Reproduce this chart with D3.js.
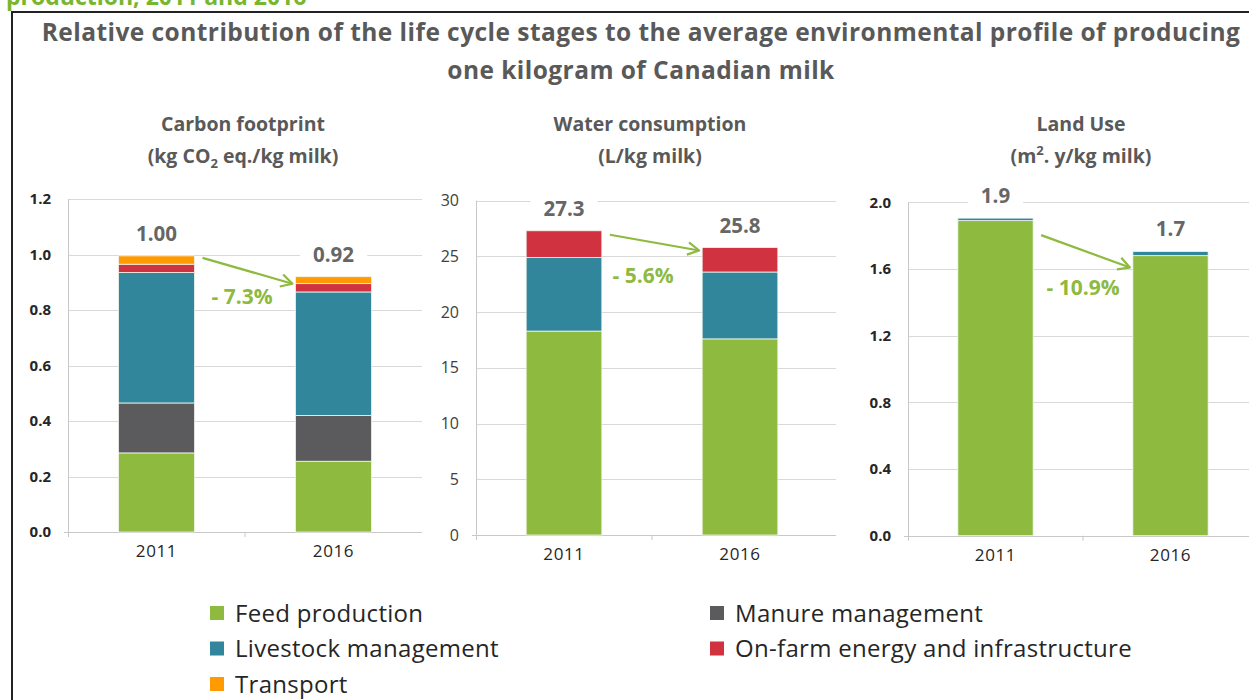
<!DOCTYPE html>
<html>
<head>
<meta charset="utf-8">
<script src="https://cdn.jsdelivr.net/npm/d3@7"></script>
<style>
  body { margin: 0; background: #fff; }
  svg { display: block; }
</style>
</head>
<body>
<script>
// ---- data ----
const years = ["2011", "2016"];
const stages = ["Feed production", "Manure management", "Livestock management", "On-farm energy and infrastructure", "Transport"];
const stageColors = ["#8dba3f", "#5b5b5d", "#31869b", "#d0323f", "#ff9a00"];

// one value per stage (same order as stages)
const carbon2011 = [0.285, 0.18, 0.47, 0.03, 0.03];
const carbon2016 = [0.255, 0.165, 0.445, 0.03, 0.025];
const water2011 = [18.3, 0, 6.6, 2.4, 0];
const water2016 = [17.6, 0, 6.0, 2.2, 0];
const land2011 = [1.89, 0, 0.015, 0, 0];
const land2016 = [1.68, 0, 0.025, 0, 0];

const carbonTotals = ["1.00", "0.92"];
const waterTotals = ["27.3", "25.8"];
const landTotals = ["1.9", "1.7"];
const changeLabels = ["- 7.3%", "- 5.6%", "- 10.9%"];

const carbonTicks = [0, 0.2, 0.4, 0.6, 0.8, 1.0, 1.2];
const waterTicks = [0, 5, 10, 15, 20, 25, 30];
const landTicks = [0, 0.4, 0.8, 1.2, 1.6, 2.0];

const W = 1249, H = 700;
const FONT = "'Open Sans', Lato, sans-serif";
const GREY = "#595959";
const GREEN = "#8dba3f";

const svg = d3.select("body").append("svg")
    .attr("width", W)
    .attr("height", H);

svg.append("rect").attr("width", W).attr("height", H).attr("fill", "#fff");

// heading cut off at the top edge, as in the source image
svg.append("text")
    .attr("x", 6)
    .attr("y", 5)
    .attr("font-family", FONT)
    .attr("font-size", "23px")
    .attr("font-weight", "bold")
    .attr("fill", "#77b62f")
    .text("production, 2011 and 2016");

// frame
svg.append("path")
    .attr("d", "M12,700 V12 H1249")
    .attr("fill", "none")
    .attr("stroke", "#222")
    .attr("stroke-width", 2);

// main title
const title = svg.append("text")
    .attr("text-anchor", "middle")
    .attr("font-family", FONT)
    .attr("font-size", "24.5px")
    .attr("font-weight", "bold")
    .attr("letter-spacing", "0.45px")
    .attr("fill", GREY);
title.append("tspan").attr("x", 641).attr("y", 41)
    .text("Relative contribution of the life cycle stages to the average environmental profile of producing");
title.append("tspan").attr("x", 641).attr("y", 79)
    .text("one kilogram of Canadian milk");

const panels = [
    {
        rows: [carbon2011, carbon2016], totals: carbonTotals, change: changeLabels[0],
        ticks: carbonTicks, fmt: d3.format(".1f"), max: 1.2, tickBold: true,
        x0: 68, x1: 422, gridRight: 422, yBottom: 532, yTop: 199,
        title: ["Carbon footprint", "co2"], arrowDy: [2, 7], changeDy: 33, changeDx: -3
    },
    {
        rows: [water2011, water2016], totals: waterTotals, change: changeLabels[1],
        ticks: waterTicks, fmt: d3.format("d"), max: 30, tickBold: false,
        x0: 476, x1: 828, gridRight: 836, yBottom: 535, yTop: 200.7,
        title: ["Water consumption", "(L/kg milk)"], arrowDy: [4, 3], changeDy: 40, changeDx: -9
    },
    {
        rows: [land2011, land2016], totals: landTotals, change: changeLabels[2],
        ticks: landTicks, fmt: d3.format(".1f"), max: 2.0, tickBold: true,
        x0: 908, x1: 1258, gridRight: 1249, yBottom: 535.7, yTop: 202.3,
        title: ["Land Use", "m2"], arrowDy: [17, 16], changeDy: 44, changeDx: 0
    }
];

panels.forEach(drawPanel);
drawLegend();

function drawPanel(p) {
    const x = d3.scaleBand()
        .domain(years)
        .range([p.x0, p.x1])
        .paddingInner(0.57)
        .paddingOuter(0.285);

    const y = d3.scaleLinear()
        .domain([0, p.max])
        .range([p.yBottom, p.yTop]);

    const g = svg.append("g");

    // gridlines
    g.selectAll("line.grid")
        .data(p.ticks.filter(t => t > 0))
        .enter().append("line")
        .attr("x1", p.x0)
        .attr("x2", p.gridRight)
        .attr("y1", d => Math.round(y(d)) + 0.5)
        .attr("y2", d => Math.round(y(d)) + 0.5)
        .attr("stroke", "#d9d9d9")
        .attr("stroke-width", 1);

    // y axis labels
    const yAxis = g.append("g")
        .attr("transform", "translate(" + p.x0 + ",0)")
        .call(d3.axisLeft(y).tickValues(p.ticks).tickFormat(p.fmt).tickSize(0).tickPadding(17));
    yAxis.select(".domain").remove();
    yAxis.selectAll("text")
        .attr("font-family", FONT)
        .attr("font-size", p.tickBold ? "15px" : "16px")
        .attr("font-weight", p.tickBold ? "bold" : "normal")
        .attr("fill", p.tickBold ? "#262626" : "#404040");

    // axis lines
    g.append("line")
        .attr("x1", p.x0 + 0.5).attr("x2", p.x0 + 0.5)
        .attr("y1", y(p.max)).attr("y2", p.yBottom + 5)
        .attr("stroke", "#c8c8c8");
    g.append("line")
        .attr("x1", p.x0 - 4).attr("x2", p.gridRight)
        .attr("y1", Math.round(p.yBottom) + 0.5).attr("y2", Math.round(p.yBottom) + 0.5)
        .attr("stroke", "#c8c8c8");
    const mid = (x(years[0]) + x.bandwidth() + x(years[1])) / 2;
    g.append("line")
        .attr("x1", mid).attr("x2", mid)
        .attr("y1", p.yBottom).attr("y2", p.yBottom + 5)
        .attr("stroke", "#c8c8c8");

    // stacked bars
    const table = years.map((yr, i) => {
        const row = { year: yr };
        stages.forEach((s, j) => { row[s] = p.rows[i][j]; });
        return row;
    });
    const series = d3.stack().keys(stages)(table);

    g.selectAll("g.layer")
        .data(series)
        .enter().append("g")
        .attr("fill", (d, i) => stageColors[i])
        .selectAll("rect")
        .data(d => d.filter(v => v[1] - v[0] > 0))
        .enter().append("rect")
        .attr("x", d => x(d.data.year))
        .attr("y", d => y(d[1]))
        .attr("width", x.bandwidth())
        .attr("height", d => y(d[0]) - y(d[1]))
        .attr("stroke", "#f2f6ee")
        .attr("stroke-width", 0.8);

    // x labels
    const xAxis = g.append("g")
        .attr("transform", "translate(0," + p.yBottom + ")")
        .call(d3.axisBottom(x).tickSize(0).tickPadding(13));
    xAxis.select(".domain").remove();
    xAxis.selectAll("text")
        .attr("font-family", FONT)
        .attr("font-size", "17px")
        .attr("letter-spacing", "0.6px")
        .attr("fill", "#262626");

    // totals above bars
    const tops = years.map((yr, i) => d3.sum(p.rows[i]));
    years.forEach((yr, i) => {
        const cx = x(yr) + x.bandwidth() / 2;
        const t = g.append("text")
            .attr("x", cx)
            .attr("y", y(tops[i]) - 15)
            .attr("text-anchor", "middle")
            .attr("font-family", FONT)
            .attr("font-size", "20.5px")
            .attr("font-weight", "bold")
            .attr("fill", "#666")
            .text(p.totals[i]);
        const bb = t.node().getBBox();
        g.insert("rect", function () { return t.node(); })
            .attr("x", bb.x - 13).attr("y", bb.y)
            .attr("width", bb.width + 26).attr("height", bb.height)
            .attr("fill", "#fff");
    });

    // arrow
    const ax1 = x(years[0]) + x.bandwidth() + 8;
    const ay1 = y(tops[0]) + p.arrowDy[0];
    const ax2 = x(years[1]) - 3;
    const ay2 = y(tops[1]) + p.arrowDy[1];
    g.append("line")
        .attr("x1", ax1).attr("y1", ay1)
        .attr("x2", ax2).attr("y2", ay2)
        .attr("stroke", GREEN)
        .attr("stroke-width", 2.2);
    const ang = Math.atan2(ay2 - ay1, ax2 - ax1);
    const head = [-0.5, 0.5].map(a => [ax2 - 13 * Math.cos(ang + a), ay2 - 13 * Math.sin(ang + a)]);
    g.append("path")
        .attr("d", "M" + head[0] + "L" + ax2 + "," + ay2 + "L" + head[1])
        .attr("fill", "none")
        .attr("stroke", GREEN)
        .attr("stroke-width", 2.2)
        .attr("stroke-linejoin", "round");

    // percentage change
    g.append("text")
        .attr("x", mid + p.changeDx)
        .attr("y", (ay1 + ay2) / 2 + p.changeDy)
        .attr("text-anchor", "middle")
        .attr("font-family", FONT)
        .attr("font-size", "21px")
        .attr("font-weight", "bold")
        .attr("fill", GREEN)
        .text(p.change);

    // panel title
    const cx = (p.x0 + p.x1) / 2 - 2;
    const tt = g.append("text")
        .attr("text-anchor", "middle")
        .attr("font-family", FONT)
        .attr("font-size", "19.5px")
        .attr("font-weight", "bold")
        .attr("fill", GREY);
    tt.append("tspan").attr("x", cx).attr("y", 131).text(p.title[0]);
    const l2 = tt.append("tspan").attr("x", cx).attr("y", 163);
    if (p.title[1] === "co2") {
        l2.append("tspan").text("(kg CO");
        l2.append("tspan").attr("font-size", "13px").attr("dy", 5).text("2");
        l2.append("tspan").attr("dy", -5).text(" eq./kg milk)");
    } else if (p.title[1] === "m2") {
        l2.append("tspan").text("(m");
        l2.append("tspan").attr("font-size", "13px").attr("dy", -8).text("2");
        l2.append("tspan").attr("dy", 8).text(". y/kg milk)");
    } else {
        l2.text(p.title[1]);
    }
}

function drawLegend() {
    const cols = [210, 710];
    const rows0 = 613, rowStep = 35.5;
    const items = svg.selectAll("g.legend")
        .data(stages)
        .enter().append("g")
        .attr("transform", (d, i) => "translate(" + cols[i % 2] + "," + (rows0 + Math.floor(i / 2) * rowStep) + ")");
    items.append("rect")
        .attr("x", 0).attr("y", -7)
        .attr("width", 14).attr("height", 14)
        .attr("fill", (d, i) => stageColors[i]);
    items.append("text")
        .attr("x", 25)
        .attr("y", 8.5)
        .attr("font-family", FONT)
        .attr("font-size", "24px")
        .attr("letter-spacing", "0.3px")
        .attr("fill", "#262626")
        .text(d => d);
}
</script>
</body>
</html>
